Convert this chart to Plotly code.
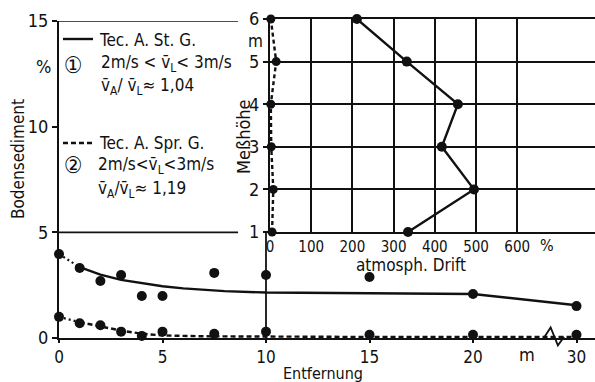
import plotly.graph_objects as go

# ---------------- data ----------------
# main chart: Bodensediment (%) vs Entfernung (m)
dist = [0, 1, 2, 3, 4, 5, 7.5, 10, 15, 20, 30]
sed_st = [3.97, 3.31, 2.70, 2.98, 1.99, 1.99, 3.08, 2.98, 2.89, 2.08, 1.51]   # (1) Tec. A. St. G.
sed_spr = [1.00, 0.70, 0.60, 0.30, 0.10, 0.30, 0.20, 0.30, 0.15, 0.15, 0.15]  # (2) Tec. A. Spr. G.

# fitted curves
fit_x1 = [1, 2, 3, 4, 5, 6, 7, 8, 10, 15, 20, 30]
fit_y1 = [3.35, 3.0, 2.75, 2.6, 2.45, 2.35, 2.28, 2.22, 2.15, 2.12, 2.08, 1.55]
fit0_x1 = [0, 1]
fit0_y1 = [3.97, 3.35]
fit_x2 = [1, 2, 3, 4, 5, 7, 10, 15, 20, 30]
fit_y2 = [0.75, 0.55, 0.35, 0.2, 0.12, 0.08, 0.06, 0.05, 0.05, 0.05]
fit0_x2 = [0, 1]
fit0_y2 = [1.0, 0.75]

x_tick_vals = [0, 5, 10, 15, 20, 30]
x_tick_text = ["0", "5", "10", "15", "20", "30"]
y_tick_vals = [0, 5, 10, 15]

# inset: atmosph. Drift (%) vs Meßhöhe (m)
height = [1, 2, 3, 4, 5, 6]
drift_st = [335, 495, 417, 456, 332, 211]
drift_spr = [5, 8, 3, 2, 15, 2]
drift_ticks = [0, 100, 200, 300, 400, 500, 600]

# ---------------- helpers ----------------
BREAK_AT = 20
BREAK_SCALE = 0.5


def pos(v):
    return v if v <= BREAK_AT else BREAK_AT + (v - BREAK_AT) * BREAK_SCALE


def P(lst):
    return [pos(v) for v in lst]


W, H = 595, 382


def px(x):
    return x / W


def py(y):
    return 1 - y / H


FONT = "DejaVu Sans Condensed, DejaVu Sans, sans-serif"
INK = "#111111"

X_DOM = [px(59), 1]
X_RANGE = [0, (W - 59) / 20.7]
Y_DOM = [py(338), py(21)]
Y_RANGE = [0, 15]

fig = go.Figure()

# main chart traces
fig.add_trace(go.Scatter(x=P(fit0_x1), y=fit0_y1, mode="lines",
                         line=dict(color=INK, width=2.2, dash="2px,3px"),
                         xaxis="x", yaxis="y", cliponaxis=False))
fig.add_trace(go.Scatter(x=P(fit_x1), y=fit_y1, mode="lines",
                         line=dict(color=INK, width=2.4),
                         xaxis="x", yaxis="y", cliponaxis=False))
fig.add_trace(go.Scatter(x=P(fit0_x2), y=fit0_y2, mode="lines",
                         line=dict(color=INK, width=2.2, dash="2px,3px"),
                         xaxis="x", yaxis="y", cliponaxis=False))
fig.add_trace(go.Scatter(x=P(fit_x2), y=fit_y2, mode="lines",
                         line=dict(color=INK, width=2.4, dash="5px,3px"),
                         xaxis="x", yaxis="y", cliponaxis=False))
fig.add_trace(go.Scatter(x=P(dist), y=sed_st, mode="markers",
                         marker=dict(color=INK, size=10),
                         xaxis="x", yaxis="y", cliponaxis=False))
fig.add_trace(go.Scatter(x=P(dist), y=sed_spr, mode="markers",
                         marker=dict(color=INK, size=10),
                         xaxis="x", yaxis="y", cliponaxis=False))

# inset traces
fig.add_trace(go.Scatter(x=drift_st, y=height, mode="lines+markers",
                         line=dict(color=INK, width=2.4),
                         marker=dict(color=INK, size=10),
                         xaxis="x2", yaxis="y2", cliponaxis=False))
fig.add_trace(go.Scatter(x=drift_spr, y=height, mode="lines+markers",
                         line=dict(color=INK, width=2.4, dash="4px,3px"),
                         marker=dict(color=INK, size=9),
                         xaxis="x2", yaxis="y2", cliponaxis=False))


# axis break zig-zag on the distance axis (paper coords so it is not clipped)
def data_to_paper_y(v):
    return Y_DOM[0] + (v - Y_RANGE[0]) / (Y_RANGE[1] - Y_RANGE[0]) * (Y_DOM[1] - Y_DOM[0])


bx = pos(27.8)
zz = [(bx - 0.45, 0.05), (bx - 0.15, 0.5), (bx + 0.2, -0.35), (bx + 0.5, 0.05)]
path = "M " + " L ".join(f"{xv},{data_to_paper_y(yv)}" for xv, yv in zz)
fig.add_shape(type="path", path=path, xref="x", yref="paper",
              line=dict(color=INK, width=1.8))

# main chart reference lines
xmax_grid = 8.65
for yv in (5, 15):
    fig.add_shape(type="line", x0=0, x1=xmax_grid, y0=yv, y1=yv, xref="x", yref="y",
                  line=dict(color=INK, width=1.6))
fig.add_shape(type="line", x0=10, x1=10, y0=0, y1=5, xref="x", yref="y",
              line=dict(color=INK, width=1.8))

# legend samples
fig.add_shape(type="line", x0=px(63), x1=px(93), y0=py(39), y1=py(39), xref="paper", yref="paper",
              line=dict(color=INK, width=2.4))
fig.add_shape(type="line", x0=px(63), x1=px(93), y0=py(143), y1=py(143), xref="paper", yref="paper",
              line=dict(color=INK, width=2.4, dash="5px,3px"))

ann = []


def text(x, y, s, size=17, xanchor="left", angle=0):
    ann.append(dict(x=px(x), y=py(y), xref="paper", yref="paper", text=s, showarrow=False,
                    xanchor=xanchor, yanchor="middle", textangle=angle,
                    font=dict(family=FONT, size=size, color=INK)))


vb = "v\u0304"
text(97, 40, "Tec. A. St. G.")
text(73, 65, "\u2460", size=23, xanchor="center")
text(99, 64, f"2m/s &lt; {vb}<sub>L</sub>&lt; 3m/s")
text(99, 87, f"{vb}<sub>A</sub>/ {vb}<sub>L</sub>\u2248 1,04")
text(97, 143, "Tec. A. Spr. G.")
text(73, 165, "\u2461", size=23, xanchor="center")
text(96, 165, f"2m/s&lt;{vb}<sub>L</sub>&lt;3m/s")
text(96, 189, f"{vb}<sub>A</sub>/{vb}<sub>L</sub>\u2248 1,19")

text(43, 66, "%", size=18, xanchor="center")
text(18, 159, "Bodensediment", size=17, xanchor="center", angle=-90)
text(323, 373, "Entfernung", size=16, xanchor="center")
text(527, 354, "m", size=18, xanchor="center")

text(255, 41, "m", size=17, xanchor="center")
text(243, 137, "Meßhöhe", size=18, xanchor="center", angle=-90)
text(547, 245, "%", size=16, xanchor="center")
text(411, 265, "atmosph. Drift", size=17, xanchor="center")

fig.update_layout(
    width=W, height=H,
    margin=dict(l=0, r=0, t=0, b=0, autoexpand=False),
    paper_bgcolor="white", plot_bgcolor="rgba(0,0,0,0)",
    showlegend=False,
    font=dict(family=FONT, size=17, color=INK),
    annotations=ann,
    xaxis=dict(domain=X_DOM, range=X_RANGE, anchor="y",
               tickvals=P(x_tick_vals), ticktext=x_tick_text, automargin=False,
               showline=True, linecolor=INK, linewidth=2,
               ticks="outside", ticklen=3, tickcolor=INK, tickwidth=2,
               showgrid=False, zeroline=False, tickfont=dict(size=17)),
    yaxis=dict(domain=Y_DOM, range=Y_RANGE, anchor="x",
               tickvals=y_tick_vals, automargin=False,
               showline=True, linecolor=INK, linewidth=2,
               ticks="outside", ticklen=5, tickcolor=INK, tickwidth=2,
               showgrid=False, zeroline=False, tickfont=dict(size=18)),
    xaxis2=dict(domain=[px(270), 1], range=[0, (W - 270) / 0.412], anchor="y2",
                tickvals=drift_ticks, automargin=False,
                ticktext=[str(v) for v in drift_ticks],
                showline=True, mirror=True, linecolor=INK, linewidth=2,
                showgrid=True, gridcolor=INK, gridwidth=1.6,
                ticks="", zeroline=False, tickfont=dict(size=15)),
    yaxis2=dict(domain=[py(232), py(19)], range=[1, 6], anchor="x2",
                tickvals=height, automargin=False,
                showline=True, linecolor=INK, linewidth=2,
                showgrid=True, gridcolor=INK, gridwidth=1.6,
                ticks="outside", ticklen=5, tickcolor=INK, tickwidth=2,
                zeroline=False, tickfont=dict(size=18)),
)

fig.write_html("out.html")
